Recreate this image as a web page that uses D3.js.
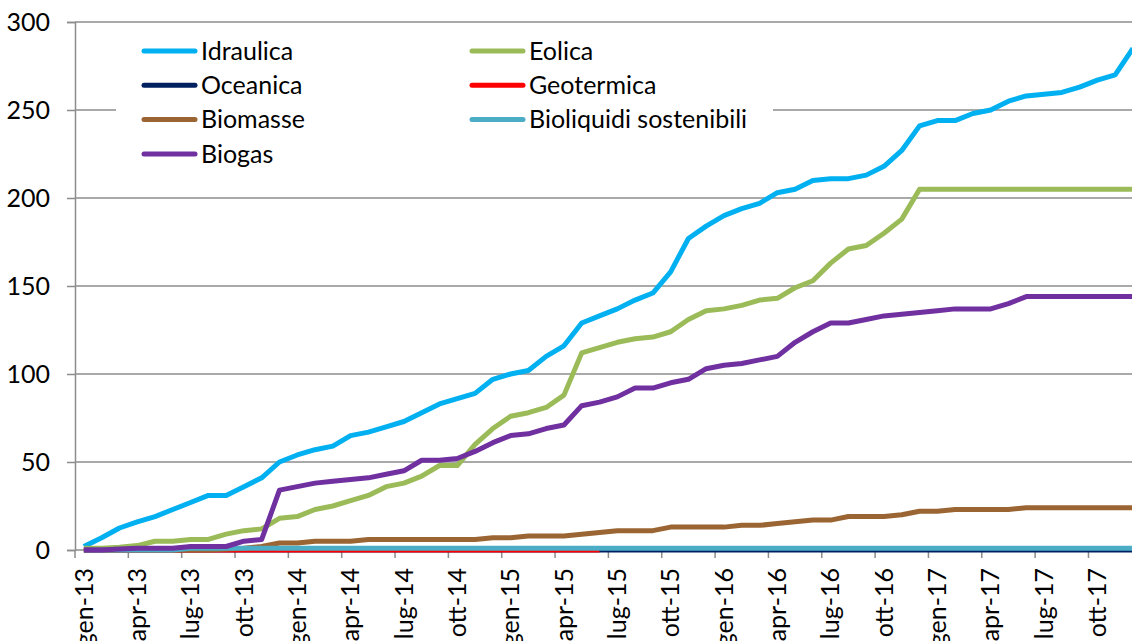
<!DOCTYPE html>
<html>
<head>
<meta charset="utf-8">
<script src="https://cdn.jsdelivr.net/npm/d3@7"></script>
<style>
  body { margin: 0; background: #fff; }
  svg { display: block; font-family: Lato, "Open Sans", sans-serif; }
</style>
</head>
<body>
<div id="chart"></div>
<script>
// monthly data, gen-13 .. dic-17
const monthNames = ["gen", "feb", "mar", "apr", "mag", "giu", "lug", "ago", "set", "ott", "nov", "dic"];
const years = ["13", "14", "15", "16", "17"];
const months = years.flatMap(y => monthNames.map(m => `${m}-${y}`));

const idraulica = [2, 7, 12.5, 16, 19, 23, 27, 31, 31, 36, 41, 50, 54, 57, 59, 65, 67, 70, 73, 78,
  83, 86, 89, 97, 100, 102, 110, 116, 129, 133, 137, 142, 146, 158, 177, 184, 190, 194, 197, 203,
  205, 210, 211, 211, 213, 218, 227, 241, 244, 244, 248, 250, 255, 258, 259, 260, 263, 267, 270, 285];
const eolica = [1, 1, 1.5, 2.5, 5, 5, 6, 6, 9, 11, 12, 18, 19, 23, 25, 28, 31, 36, 38, 42,
  48, 48, 60, 69, 76, 78, 81, 88, 112, 115, 118, 120, 121, 124, 131, 136, 137, 139, 142, 143,
  149, 153, 163, 171, 173, 180, 188, 205, 205, 205, 205, 205, 205, 205, 205, 205, 205, 205, 205, 205];
const oceanica = months.map(() => 0);
const geotermica = [0, 0, 0, 0, 0, 0, 0, 0, 0, 0, 0, 0, 0, 0, 0, 0, 0, 0, 0, 0,
  0, 0, 0, 0, 0, 0, 0, 0, 0, 0, null, null, null, null, null, null, null, null, null, null,
  null, null, null, null, null, null, null, null, null, null, null, null, null, null, null, null, null, null, null, null];
const biomasse = [0, 0, 0, 0, 0, 0, 0, 0, 0.5, 1, 2, 4, 4, 5, 5, 5, 6, 6, 6, 6,
  6, 6, 6, 7, 7, 8, 8, 8, 9, 10, 11, 11, 11, 13, 13, 13, 13, 14, 14, 15,
  16, 17, 17, 19, 19, 19, 20, 22, 22, 23, 23, 23, 23, 24, 24, 24, 24, 24, 24, 24];
const bioliquidi = [0, 0, 0, 0, 0, 0, 1, 1, 1, 1, 1, 1, 1, 1, 1, 1, 1, 1, 1, 1,
  1, 1, 1, 1, 1, 1, 1, 1, 1, 1, 1, 1, 1, 1, 1, 1, 1, 1, 1, 1,
  1, 1, 1, 1, 1, 1, 1, 1, 1, 1, 1, 1, 1, 1, 1, 1, 1, 1, 1, 1];
const biogas = [0, 0, 0.5, 1, 1, 1, 2, 2, 2, 5, 6, 34, 36, 38, 39, 40, 41, 43, 45, 51,
  51, 52, 56, 61, 65, 66, 69, 71, 82, 84, 87, 92, 92, 95, 97, 103, 105, 106, 108, 110,
  118, 124, 129, 129, 131, 133, 134, 135, 136, 137, 137, 137, 140, 144, 144, 144, 144, 144, 144, 144];

const seriesNames = ["Idraulica", "Eolica", "Oceanica", "Geotermica", "Biomasse", "Bioliquidi sostenibili", "Biogas"];
const seriesValues = [idraulica, eolica, oceanica, geotermica, biomasse, bioliquidi, biogas];
const seriesColors = ["#00b0f0", "#9bbb59", "#002060", "#ff0000", "#9a6532", "#4bacc6", "#7030a0"];
const yTicks = [0, 50, 100, 150, 200, 250, 300];

const svgWidth = 1132, svgHeight = 641;
const plotLeft = 75, plotTop = 22, plotBottom = 550;
const bandW = 17.78;

const svg = d3.select("#chart")
    .append("svg")
    .attr("width", svgWidth)
    .attr("height", svgHeight);

const x = d3.scaleBand()
    .domain(months)
    .range([plotLeft, plotLeft + bandW * months.length])
    .paddingInner(0).paddingOuter(0);
const y = d3.scaleLinear().domain([0, 300]).range([plotBottom, plotTop]);

// gridlines
svg.append("g")
    .selectAll("line")
    .data(yTicks.filter(d => d > 0))
    .join("line")
    .attr("x1", plotLeft).attr("x2", svgWidth)
    .attr("y1", d => y(d)).attr("y2", d => y(d))
    .attr("stroke", "#8c8c8c")
    .attr("stroke-width", 1.5);

// y axis
const yAxis = svg.append("g")
    .attr("transform", `translate(${plotLeft},0)`)
    .call(d3.axisLeft(y).tickValues(yTicks).tickSize(8).tickPadding(17));
yAxis.select(".domain").attr("stroke", "#8c8c8c").attr("stroke-width", 1.5);
yAxis.selectAll(".tick line").attr("stroke", "#8c8c8c").attr("stroke-width", 1.5);
yAxis.selectAll("text")
    .attr("fill", "#000")
    .style("font-size", "25px")
    .style("font-family", "Lato, sans-serif");

// x axis
const xAxis = svg.append("g")
    .attr("transform", `translate(0,${plotBottom})`);
xAxis.append("line")
    .attr("x1", plotLeft).attr("x2", svgWidth)
    .attr("stroke", "#8c8c8c").attr("stroke-width", 1.5);
const tickMonths = months.filter((d, i) => i % 3 === 0);
xAxis.selectAll(".xtick")
    .data(tickMonths)
    .join("line")
    .attr("class", "xtick")
    .attr("x1", d => x(d)).attr("x2", d => x(d))
    .attr("y1", 0).attr("y2", 8)
    .attr("stroke", "#8c8c8c").attr("stroke-width", 1.5);
xAxis.selectAll(".xlabel")
    .data(tickMonths)
    .join("text")
    .attr("class", "xlabel")
    .attr("transform", d => `translate(${x(d) + x.bandwidth() / 2},18) rotate(-90)`)
    .attr("dy", "0.35em")
    .attr("text-anchor", "end")
    .style("font-size", "25px")
    .text(d => d);

// lines
const line = d3.line()
    .defined(d => d[1] !== null)
    .x(d => x(d[0]) + x.bandwidth() / 2)
    .y(d => y(d[1]));

svg.append("g")
    .selectAll("path")
    .data(seriesValues)
    .join("path")
    .attr("d", vals => line(months.map((m, i) => [m, vals[i]])))
    .attr("fill", "none")
    .attr("stroke", (d, i) => seriesColors[i])
    .attr("stroke-width", 5)
    .attr("stroke-linejoin", "round");

// legend
const legendBox = svg.append("g");
legendBox.append("rect")
    .attr("x", 116).attr("y", 30)
    .attr("width", 657).attr("height", 150)
    .attr("fill", "#fff");
const legend = legendBox.selectAll(".legend")
    .data(seriesNames)
    .join("g")
    .attr("class", "legend")
    .attr("transform", (d, i) => `translate(${i % 2 === 0 ? 142 : 470}, ${51 + Math.floor(i / 2) * 34.3})`);
legend.append("line")
    .attr("x1", 2).attr("x2", 53)
    .attr("stroke", (d, i) => seriesColors[i])
    .attr("stroke-width", 5)
    .attr("stroke-linecap", "round");
legend.append("text")
    .attr("x", 59)
    .attr("dy", "0.35em")
    .style("font-size", "25px")
    .text(d => d);
</script>
</body>
</html>
